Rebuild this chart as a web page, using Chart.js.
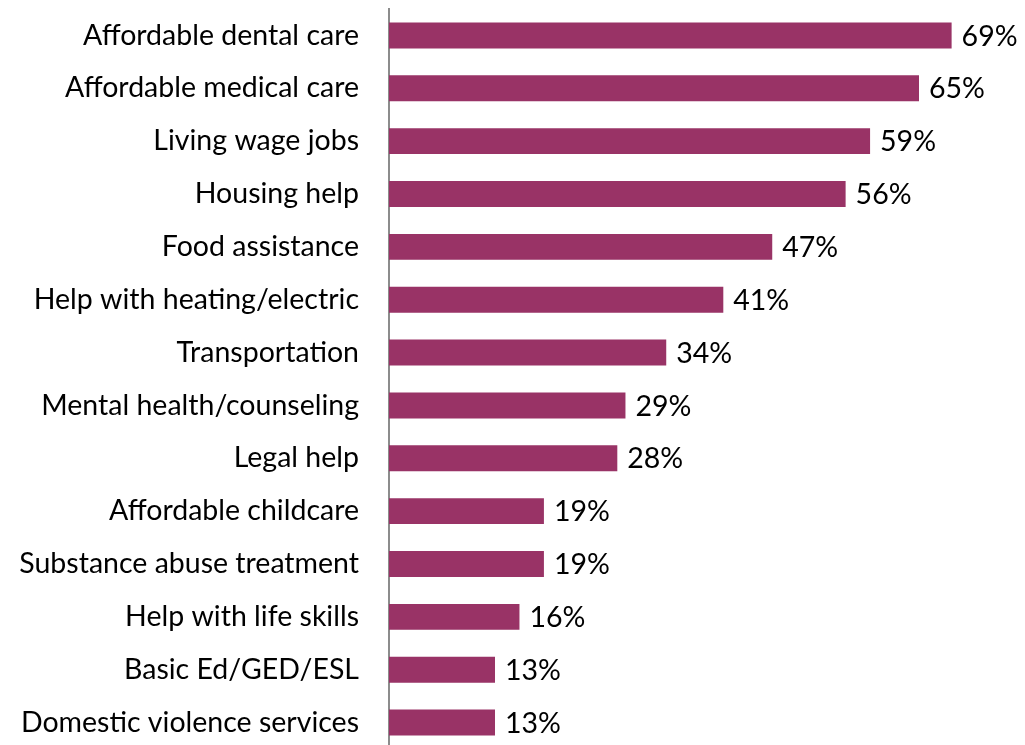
<!DOCTYPE html>
<html>
<head>
<meta charset="utf-8">
<script src="https://cdn.jsdelivr.net/npm/chart.js@4/dist/chart.umd.min.js"></script>
<style>
  html, body { margin: 0; padding: 0; background: #fff; overflow: hidden; }
  #wrap { width: 1025px; height: 760px; position: relative; }
</style>
</head>
<body>
<div id="wrap"><canvas id="servicesChart"></canvas></div>
<script>
const categories = [
  "Affordable dental care",
  "Affordable medical care",
  "Living wage jobs",
  "Housing help",
  "Food assistance",
  "Help with heating/electric",
  "Transportation",
  "Mental health/counseling",
  "Legal help",
  "Affordable childcare",
  "Substance abuse treatment",
  "Help with life skills",
  "Basic Ed/GED/ESL",
  "Domestic violence services",
];
const values = [69, 65, 59, 56, 47, 41, 34, 29, 28, 19, 19, 16, 13, 13];

const FONT = "Lato, 'Open Sans', sans-serif";
const FONT_SIZE = 28.5;

// draws "69%" etc. just right of each bar
const valueLabels = {
  id: "valueLabels",
  afterDatasetsDraw(chart) {
    const ctx = chart.ctx;
    const meta = chart.getDatasetMeta(0);
    ctx.save();
    ctx.font = `${FONT_SIZE}px ${FONT}`;
    ctx.fillStyle = "#000";
    ctx.textAlign = "left";
    ctx.textBaseline = "middle";
    meta.data.forEach((bar, i) => {
      ctx.fillText(values[i] + "%", bar.x + 10, bar.y + 1);
    });
    ctx.restore();
  },
};

new Chart(document.getElementById("servicesChart").getContext("2d"), {
  type: "bar",
  data: {
    labels: categories,
    datasets: [
      {
        data: values,
        backgroundColor: "#993366",
        borderWidth: 0,
        barPercentage: 0.49,
        categoryPercentage: 1,
      },
    ],
  },
  options: {
    indexAxis: "y",
    responsive: true,
    maintainAspectRatio: false,
    animation: false,
    layout: { padding: { top: 9, bottom: 11, left: 0, right: 0 } },
    scales: {
      x: { display: false, min: 0, max: 78 },
      y: {
        grid: { display: false, drawTicks: false },
        border: { display: true, color: "#8c8c8c", width: 2 },
        ticks: {
          color: "#000",
          padding: 30,
          font: { family: FONT, size: FONT_SIZE },
        },
        afterFit: (scale) => {
          scale.width = 389;
          scale.paddingTop = 0;
          scale.paddingBottom = 0;
        },
      },
    },
    plugins: {
      legend: { display: false },
      tooltip: { enabled: false },
    },
  },
  plugins: [valueLabels],
});
</script>
</body>
</html>
